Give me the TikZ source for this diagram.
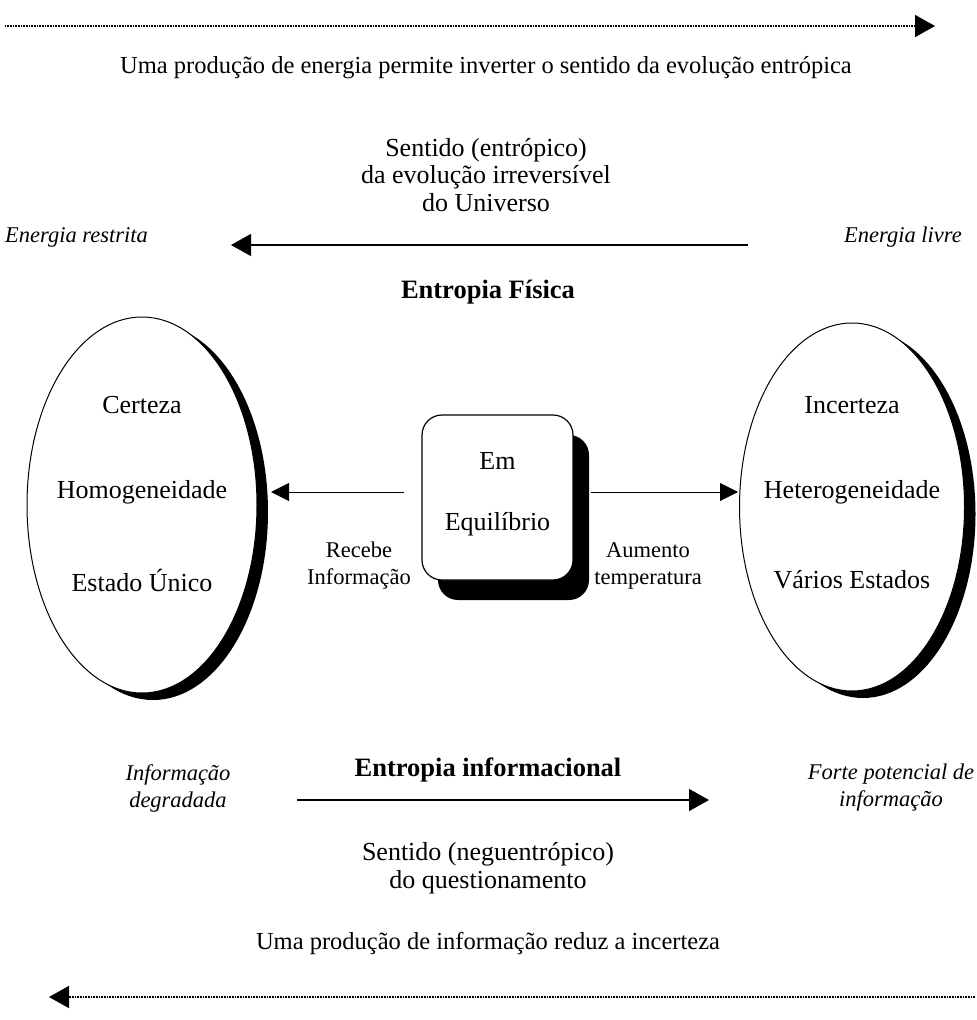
\documentclass[tikz,border=0pt]{standalone}
\usepackage{fontspec}
\setmainfont{Liberation Serif}
\usetikzlibrary{arrows.meta,shapes.geometric,shadows}
\begin{document}
\begin{tikzpicture}[x=1pt,y=-1pt,
  txt/.style={font=\fontsize{26}{27.5}\selectfont, align=center, inner sep=0pt},
  longtxt/.style={font=\fontsize{24.5}{27}\selectfont, align=center, inner sep=0pt},
  lbl/.style={font=\fontsize{22.5}{27}\selectfont, align=center, inner sep=0pt},
  itx/.style={font=\fontsize{22.5}{27}\selectfont\itshape, align=center, inner sep=0pt},
  bld/.style={font=\fontsize{26.5}{27}\selectfont\bfseries, align=center, inner sep=0pt},
  bigtip/.style={-{Triangle[length=20pt,width=22pt]}},
  solidarrow/.style={bigtip, line width=1.3pt},
  dotarrow/.style={bigtip, line width=1.6pt, dash pattern=on 0.8pt off 0.8pt},
  oval/.style={ellipse, draw, line width=1pt, fill=white, inner sep=0pt,
    drop shadow={shadow xshift=11pt, shadow yshift=-7pt, opacity=1, fill=black}},
  eqbox/.style={draw, line width=1.2pt, rounded corners=20pt, fill=white,
    minimum width=151pt, minimum height=165pt,
    drop shadow={shadow xshift=16pt, shadow yshift=-20pt, opacity=1, fill=black}}
]
\useasboundingbox (0,0) rectangle (977,1020);

% energy production flow
\coordinate (topL) at (5,26);
\coordinate (topR) at (935,26);
\draw[dotarrow] (topL) -- (topR);
\node[longtxt] (energia) at (486,68) {Uma produção de energia permite inverter o sentido da evolução entrópica};

% physical entropy
\node[txt] (sentido1) at (486,175) {Sentido (entrópico)\\da evolução irreversível\\do Universo};
\node[itx, anchor=west] (restrita) at (5,237) {Energia restrita};
\node[itx, anchor=east] (livre) at (962,237) {Energia livre};
\coordinate (fisR) at (748,245);
\coordinate (fisL) at (231,245);
\draw[solidarrow] (fisR) -- (fisL);
\node[bld] (fisica) at (488,292) {Entropia Física};

% the two states
\node[oval, minimum width=230pt, minimum height=376pt] (L) at (142,505) {};
\node[oval, minimum width=225pt, minimum height=368pt] (R) at (852,507) {};
\node[txt] (certeza) at (142,405) {Certeza};
\node[txt] (homog) at (142,492) {Homogeneidade};
\node[txt] (unico) at (142,580) {Estado Único};
\node[txt] (incerteza) at (852,405) {Incerteza};
\node[txt] (heterog) at (852,492) {Heterogeneidade};
\node[txt] (varios) at (852,580) {Vários Estados};

% equilibrium
\node[eqbox] (box) at (497.5,497.5) {};
\node[txt] (em) at (497.5,461) {Em};
\node[txt] (equil) at (497.5,524) {Equilíbrio};
\coordinate (lt) at (271,492);
\coordinate (rt) at (738,492);
\draw[solidarrow, line width=1pt, -{Triangle[length=18pt,width=18pt]}] ([xshift=-17pt,yshift=5.5pt]box.west) -- (lt);
\draw[solidarrow, line width=1pt, -{Triangle[length=18pt,width=18pt]}] ([xshift=17pt,yshift=5.5pt]box.east) -- (rt);
\node[lbl] (recebe) at (359,566) {Recebe\\Informação};
\node[lbl] (aumento) at (648,566) {Aumento\\temperatura};

% informational entropy
\node[bld] (informacional) at (488,770) {Entropia informacional};
\node[itx] (degradada) at (178,788) {Informação\\degradada};
\node[itx] (forte) at (891,788) {Forte potencial de\\informação};
\coordinate (infL) at (297,800);
\coordinate (infR) at (709,800);
\draw[solidarrow] (infL) -- (infR);
\node[txt] (sentido2) at (488,868) {Sentido (neguentrópico)\\do questionamento};
\node[longtxt] (reduz) at (488,943) {Uma produção de informação reduz a incerteza};

% information production flow
\coordinate (botR) at (975,997);
\coordinate (botL) at (49,997);
\draw[dotarrow] (botR) -- (botL);
\end{tikzpicture}
\end{document}
